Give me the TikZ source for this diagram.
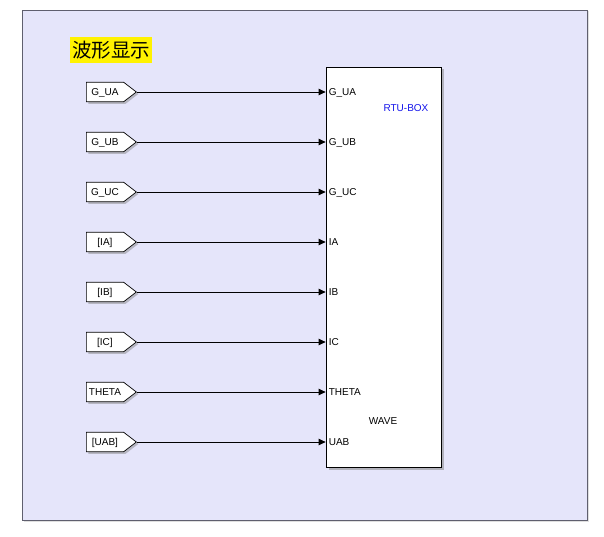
\documentclass[tikz,border=0pt]{standalone}
\usepackage{fontspec}
\setmainfont{Liberation Sans}
\newfontfamily\cjk{Noto Sans CJK SC}
\usetikzlibrary{arrows.meta,positioning,shapes.symbols,shadows}
\definecolor{panelbg}{RGB}{229,229,250}
\definecolor{panelline}{RGB}{95,95,110}
\definecolor{rtublue}{RGB}{20,20,235}

\begin{document}
\begin{tikzpicture}[
  x=1pt,y=-1pt,
  font=\fontsize{10}{12}\selectfont,
  panel/.style={draw=panelline,fill=panelbg,line width=0.9pt,
                drop shadow={shadow xshift=1.5pt,shadow yshift=-1.5pt,opacity=0.25}},
  tag/.style={signal,signal to=east,signal pointer angle=75,draw,fill=white,
              line width=0.7pt,minimum width=50pt,minimum height=19.6pt,
              inner xsep=2pt,inner ysep=0pt,text height=7.2pt,text depth=0pt,
              drop shadow={shadow xshift=2pt,shadow yshift=-2pt,opacity=0.45}},
  blk/.style={draw,fill=white,line width=0.8pt,
              minimum width=115pt,minimum height=400pt,
              drop shadow={shadow xshift=2.5pt,shadow yshift=-2.5pt,opacity=0.5}},
  port/.style={anchor=west,inner xsep=3pt,inner ysep=0pt,text height=7.2pt,text depth=0pt},
  arr/.style={-{Triangle[length=7pt,width=6.5pt]},line width=0.8pt},
  node distance=29.7pt
]
\useasboundingbox (0,0) rectangle (604,537);
\draw[panel] (22,10) rectangle (587,520);
\node[fill=yellow,anchor=north west,inner xsep=2pt,inner ysep=0pt,
      minimum height=26pt] (title) at (70,37) {\cjk\fontsize{19.5}{19.5}\selectfont 波形显示};

\node[blk] (box) at (383.5,267) {};
\node[text=rtublue] (rtu) at (406,108.5) {RTU-BOX};
\node (wave) at (383,421) {WAVE};

\node[tag,anchor=west] (gua) at (86,92) {G\_UA};
\node[tag,below=of gua] (gub) {G\_UB};
\node[tag,below=of gub] (guc) {G\_UC};
\node[tag,below=of guc] (ia) {[IA]};
\node[tag,below=of ia] (ib) {[IB]};
\node[tag,below=of ib] (ic) {[IC]};
\node[tag,below=of ic] (theta) {THETA};
\node[tag,below=of theta] (uab) {[UAB]};

\node[port] (pgua) at (box.west |- gua.east) {G\_UA};
\node[port] (pgub) at (box.west |- gub.east) {G\_UB};
\node[port] (pguc) at (box.west |- guc.east) {G\_UC};
\node[port] (pia) at (box.west |- ia.east) {IA};
\node[port] (pib) at (box.west |- ib.east) {IB};
\node[port] (pic) at (box.west |- ic.east) {IC};
\node[port] (ptheta) at (box.west |- theta.east) {THETA};
\node[port] (puab) at (box.west |- uab.east) {UAB};

\draw[arr](gua.east)--(pgua.west);\draw[arr](gub.east)--(pgub.west);
\draw[arr](guc.east)--(pguc.west);\draw[arr](ia.east)--(pia.west);
\draw[arr](ib.east)--(pib.west);\draw[arr](ic.east)--(pic.west);
\draw[arr](theta.east)--(ptheta.west);\draw[arr](uab.east)--(puab.west);
\end{tikzpicture}
\end{document}
